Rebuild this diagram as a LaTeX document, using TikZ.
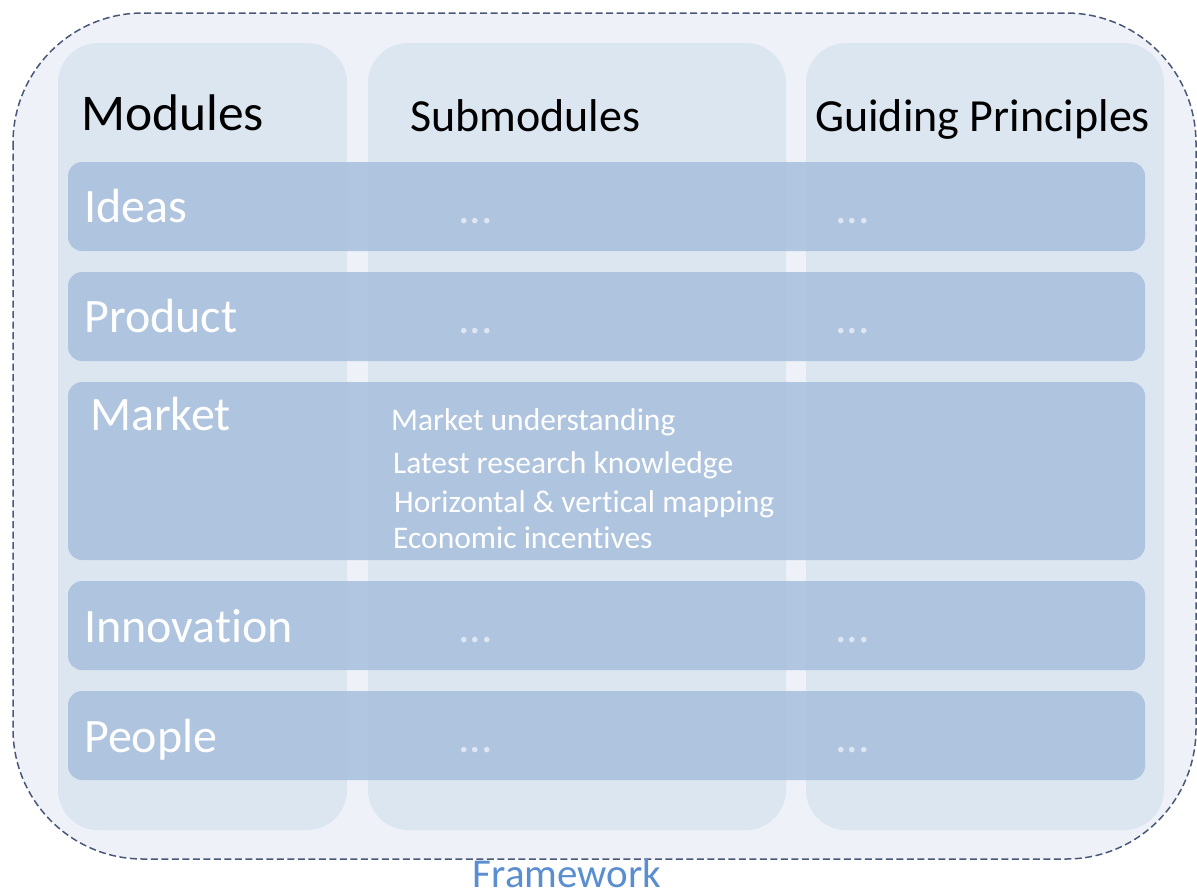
\documentclass[tikz,border=0pt]{standalone}
\usepackage{fontspec}
\setmainfont{Carlito}[Ligatures=NoCommon]
\newcommand{\nolig}{\kern0pt{}}
\definecolor{outerfill}{HTML}{EEF2F8}
\definecolor{colfill}{HTML}{DCE6F1}
\definecolor{rowfill}{HTML}{A9C0DD}
\definecolor{dashcol}{HTML}{4A5878}
\definecolor{fwblue}{HTML}{5A8ED0}
\definecolor{dotcol}{HTML}{DDE6F2}
\tikzset{
  colbox/.style={fill=colfill, rounded corners=40pt},
  rowbox/.style={fill=rowfill, fill opacity=0.88, rounded corners=14pt},
  header/.style={anchor=base west, text=black, inner sep=0pt},
  rowlabel/.style={anchor=base west, text=white, inner sep=0pt, font=\fontsize{48}{56}\selectfont},
  dots/.style={anchor=base west, text=dotcol, inner sep=0pt, font=\fontsize{46}{52}\selectfont},
  subtext/.style={anchor=base west, text=white, inner sep=0pt, font=\fontsize{31.5}{36}\selectfont},
}
\begin{document}
\begin{tikzpicture}[x=1pt,y=-1pt]
\useasboundingbox (0,0) rectangle (1197,892);
% outer framework
\draw[fill=outerfill, draw=dashcol, line width=1.5pt, dash pattern=on 7pt off 3.5pt, rounded corners=130pt]
  (13,13) rectangle (1196,859);
% columns
\path[colbox] (58,43) rectangle (347,830);
\path[colbox] (368,43) rectangle (786,830);
\path[colbox] (806,43) rectangle (1164,830);
% rows
\path[rowbox] (68,162) rectangle (1145,251);
\path[rowbox] (68,272) rectangle (1145,361);
\path[rowbox] (68,382) rectangle (1145,560);
\path[rowbox] (68,581) rectangle (1145,670);
\path[rowbox] (68,691) rectangle (1145,780);
% headers
\node[header, font=\fontsize{51.5}{60}\selectfont] (hmod) at (81,130) {Modules};
\node[header, font=\fontsize{46}{54}\selectfont] (hsub) at (410,131) {Submodules};
\node[header, font=\fontsize{46}{54}\selectfont] (hgp) at (815,131) {Guiding Principles};
% row labels
\node[rowlabel] (ideas) at (84,222) {Ideas};
\node[rowlabel] (product) at (84,332) {Product};
\node[rowlabel] (market) at (90,430) {Market};
\node[rowlabel] (innov) at (84,642) {Innovat\nolig ion};
\node[rowlabel] (people) at (84,752) {People};
% dots
\node[dots] (d1a) at (458,223) {...};
\node[dots] (d1b) at (835,223) {...};
\node[dots] (d2a) at (458,333) {...};
\node[dots] (d2b) at (835,333) {...};
\node[dots] (d4a) at (458,642) {...};
\node[dots] (d4b) at (835,642) {...};
\node[dots] (d5a) at (458,752) {...};
\node[dots] (d5b) at (835,752) {...};
% market submodules
\node[subtext] (m1) at (391,430) {Market understanding};
\node[subtext] (m2) at (393,473) {Latest research knowledge};
\node[subtext] (m3) at (394,512) {Horizontal \& vertical mapping};
\node[subtext] (m4) at (393,548) {Economic incent\nolig ives};
% caption
\node[anchor=base, text=fwblue, inner sep=0pt, font=\fontsize{41}{48}\selectfont] (fw) at (567,887) {Framework};
\end{tikzpicture}
\end{document}
